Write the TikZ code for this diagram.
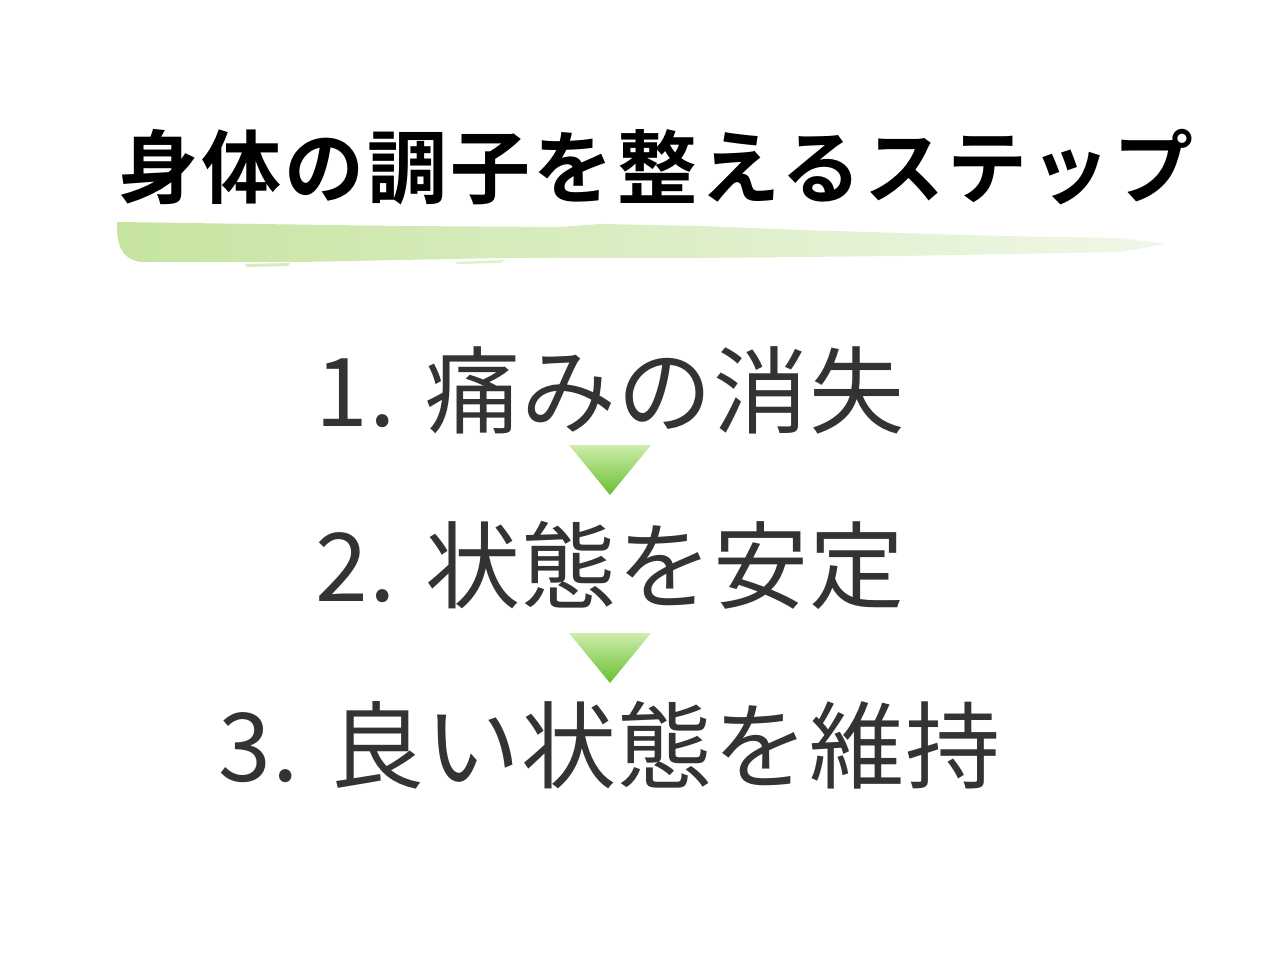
\documentclass[tikz,border=0pt]{standalone}
\usepackage{fontspec}
\usetikzlibrary{calc}
\setmainfont{Noto Sans CJK JP}
\newfontfamily\titlefont[LetterSpace=4]{Noto Sans CJK JP Bold}
\newfontfamily\bodyfont[LetterSpace=1.2]{Noto Sans CJK JP}
\definecolor{txtgray}{HTML}{333333}
\definecolor{brushL}{HTML}{C6E4A0}
\definecolor{brushR}{HTML}{F0F7E8}
\definecolor{triTop}{HTML}{CDEDAC}
\definecolor{triBot}{HTML}{6ABF30}
\tikzset{
  titletext/.style={inner sep=0pt, text=black, font=\titlefont\fontsize{80}{96}\selectfont},
  steptext/.style={inner sep=0pt, text=txtgray, font=\bodyfont\fontsize{95}{114}\selectfont},
  arrowtri/.style={top color=triTop, bottom color=triBot},
  brush/.style={left color=brushL, right color=brushR},
  streak/.style={fill=brushL!70!white}
}
\begin{document}
\begin{tikzpicture}[x=1pt,y=-1pt]
\useasboundingbox (0,0) rectangle (1280,960);
\fill[white] (0,0) rectangle (1280,960);
% brush stroke
\shade[brush] (117,222) -- (400,226) -- (560,227) -- (600,224) -- (700,226) -- (800,230) -- (1000,236) -- (1120,238)
  -- (1165,244) -- (1120,252) -- (900,256) -- (700,258) -- (500,258) -- (300,262)
  -- (140,262) .. controls (122,258) and (117,248) .. cycle;
\fill[streak] (245,264) -- (290,263) -- (288,266) -- (247,267) -- cycle;
\fill[streak, fill=brushL!55!white] (455,262) -- (505,260) -- (500,263) -- (458,264) -- cycle;
\node[titletext] (title) at (656,167) {身体の調子を整えるステップ};
\node[steptext] (s1) at (610,390) {1. 痛みの消失};
\node[steptext] (s2) at (610,565) {2. 状態を安定};
\node[steptext] (s3) at (610,745) {3. 良い状態を維持};
\coordinate (a1) at (610,445);
\coordinate (a2) at (610,633);
\shade[arrowtri] ($(a1)+(-41,0)$) -- ($(a1)+(41,0)$) -- ($(a1)+(0,50)$) -- cycle;
\shade[arrowtri] ($(a2)+(-41,0)$) -- ($(a2)+(41,0)$) -- ($(a2)+(0,50)$) -- cycle;
\end{tikzpicture}
\end{document}
